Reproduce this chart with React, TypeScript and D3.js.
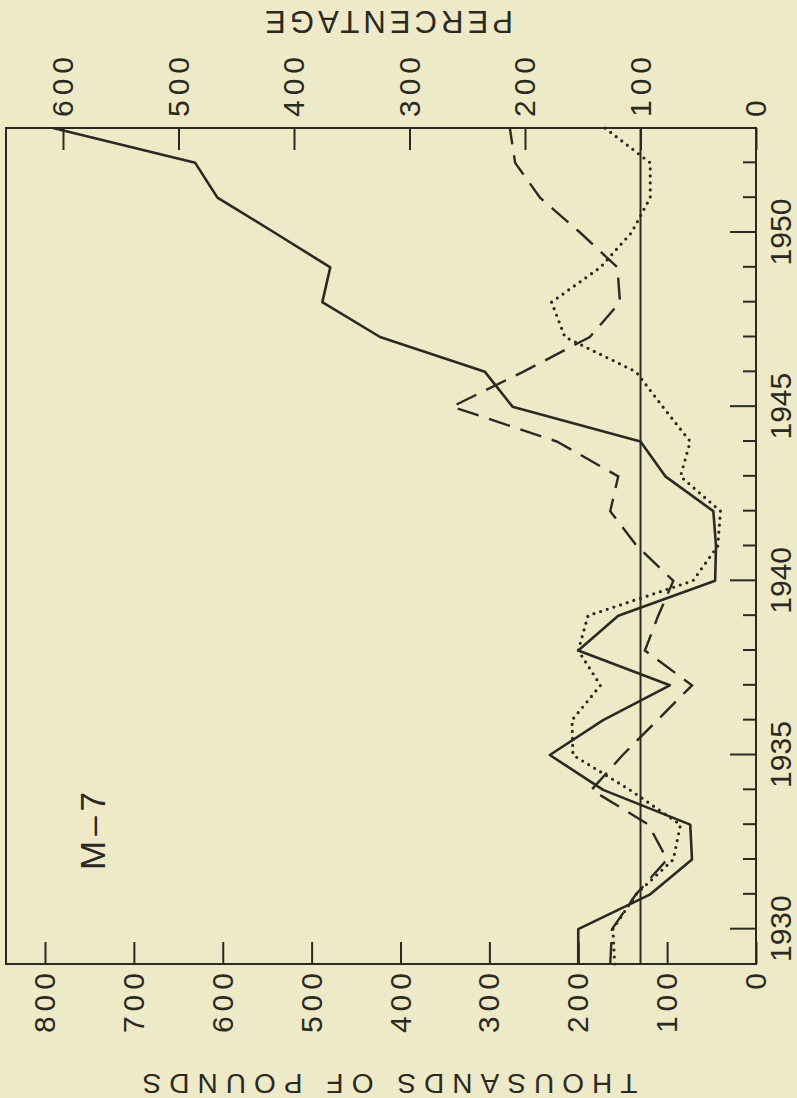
import React, { useEffect, useRef } from 'react';
import * as d3 from 'd3';

// years along the chart (drawn upright, then turned a quarter turn)
const years = [1929, 1930, 1931, 1932, 1933, 1934, 1935, 1936, 1937, 1938, 1939, 1940,
  1941, 1942, 1943, 1944, 1945, 1946, 1947, 1948, 1949, 1950, 1951, 1952, 1953];

// thousands of pounds
const solidSeries = [200, 200, 119, 72, 74, 172, 232, 172, 97, 200, 155, 46,
  45, 48, 102, 130, 274, 305, 423, 488, 479, 542, 606, 631, 791];
const dashedSeries = [164, 162, 135, 100, 121, 185, 150, 111, 72, 125, 110, 93,
  134, 164, 155, 224, 342, 262, 187, 153, 156, 198, 243, 271, 277];
const dottedSeries = [159, 161, 135, 93, 85, 142, 206, 207, 175, 200, 189, 71,
  43, 40, 85, 74, 105, 135, 215, 230, 175, 140, 119, 119, 170];

const poundTicks = [0, 100, 200, 300, 400, 500, 600, 700, 800];
const percentTicks = [0, 100, 200, 300, 400, 500, 600];
const minorYears = [1931, 1932, 1933, 1934, 1936, 1937, 1938, 1939, 1941, 1942, 1943,
  1944, 1946, 1947, 1948, 1949, 1951, 1952];
const majorYears = [1930, 1935, 1940, 1945, 1950];
const baseLine = [100];

const W = 797;
const H = 1098;
const ink = '#2a2922';
const paper = '#eeeac8';
const font = '"Liberation Sans", Arial, sans-serif';

export default function App() {
  const ref = useRef<SVGSVGElement>(null);

  useEffect(() => {
    const svg = d3.select(ref.current);
    svg.selectAll('*').remove();
    svg.append('rect').attr('width', W).attr('height', H).attr('fill', paper);

    // upright chart is H wide and W tall
    const g = svg.append('g').attr('transform', `translate(0,${H}) rotate(-90)`);

    const x = d3.scaleLinear().domain([1929, 1953]).range([134, 970]);
    const yL = d3.scaleLinear().domain([0, 800]).range([756, 45]);
    const yR = d3.scaleLinear().domain([0, 600]).range([756, 63]);

    const styleAxis = (sel, ls) => {
      sel.select('.domain').remove();
      sel.selectAll('line').attr('stroke', ink).attr('stroke-width', 2);
      sel.selectAll('text')
        .attr('fill', ink)
        .style('font-family', font)
        .style('font-size', '30px')
        .style('letter-spacing', `${ls}px`);
    };

    // left axis: thousands of pounds
    g.append('g')
      .attr('transform', 'translate(134,0)')
      .call(d3.axisLeft(yL).tickValues(poundTicks).tickSizeInner(-22).tickSizeOuter(0).tickPadding(4))
      .call((s) => styleAxis(s, 5));

    // right axis: percentage
    g.append('g')
      .attr('transform', 'translate(970,0)')
      .call(d3.axisRight(yR).tickValues(percentTicks).tickSizeInner(-22).tickSizeOuter(0).tickPadding(11))
      .call((s) => styleAxis(s, 5));

    // year axis
    g.append('g')
      .attr('transform', 'translate(0,756)')
      .call(d3.axisBottom(x).tickValues(minorYears).tickSizeInner(-13).tickSizeOuter(0).tickFormat(() => ''))
      .call((s) => styleAxis(s, 0));
    g.append('g')
      .attr('transform', 'translate(0,756)')
      .call(d3.axisBottom(x).tickValues(majorYears).tickSizeInner(-26).tickSizeOuter(0).tickPadding(14).tickFormat(d3.format('d')))
      .call((s) => styleAxis(s, 0));

    // frame
    g.append('rect')
      .attr('x', 134).attr('y', 6)
      .attr('width', 970 - 134).attr('height', 756 - 6)
      .attr('fill', 'none').attr('stroke', ink).attr('stroke-width', 2);

    // 100 per cent line
    g.selectAll('.base')
      .data(baseLine)
      .enter()
      .append('line')
      .attr('x1', 134).attr('x2', 970)
      .attr('y1', (d) => yR(d)).attr('y2', (d) => yR(d))
      .attr('stroke', ink).attr('stroke-width', 2);

    const line = d3.line<number>()
      .x((d, i) => x(years[i]))
      .y((d) => yL(d));

    g.append('path').datum(solidSeries)
      .attr('d', line).attr('fill', 'none')
      .attr('stroke', ink).attr('stroke-width', 2.6).attr('stroke-linejoin', 'round');
    g.append('path').datum(dashedSeries)
      .attr('d', line).attr('fill', 'none')
      .attr('stroke', ink).attr('stroke-width', 2.4).attr('stroke-dasharray', '22 11');
    g.append('path').datum(dottedSeries)
      .attr('d', line).attr('fill', 'none')
      .attr('stroke', ink).attr('stroke-width', 3.2)
      .attr('stroke-linecap', 'round').attr('stroke-dasharray', '0 7');

    // titles
    g.append('text')
      .attr('transform', 'translate(15,390) rotate(-90)')
      .attr('text-anchor', 'middle').attr('dominant-baseline', 'central')
      .attr('textLength', 495).attr('lengthAdjust', 'spacing')
      .style('font-family', font).style('font-size', '28px').attr('fill', ink)
      .text('THOUSANDS OF POUNDS');
    g.append('text')
      .attr('transform', 'translate(1077,389) rotate(-90)')
      .attr('text-anchor', 'middle').attr('dominant-baseline', 'central')
      .attr('textLength', 248).attr('lengthAdjust', 'spacing')
      .style('font-family', font).style('font-size', '31px').attr('fill', ink)
      .text('PERCENTAGE');
    g.append('text')
      .attr('x', 228).attr('y', 105)
      .style('font-family', font).style('font-size', '35px')
      .style('letter-spacing', '5px').attr('fill', ink)
      .text('M–7');
  }, []);

  return (
    <svg
      ref={ref}
      width={W}
      height={H}
      style={{ position: 'absolute', left: 0, top: 0, display: 'block' }}
    />
  );
}
